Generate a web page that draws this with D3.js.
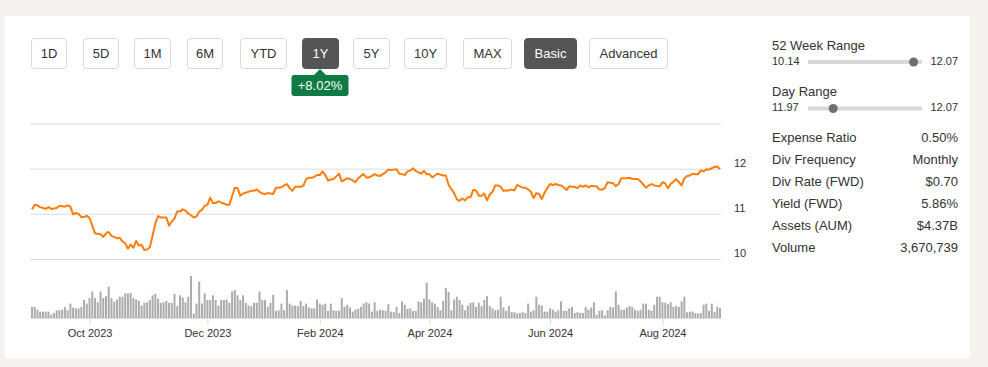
<!DOCTYPE html>
<html>
<head>
<meta charset="utf-8">
<script src="https://cdn.jsdelivr.net/npm/d3@7"></script>
<style>
  body { margin: 0; background: #f5f2f0; }
  svg { display: block; font-family: "Liberation Sans", Arial, sans-serif; }
</style>
</head>
<body>
<div id="chart"></div>
<script>
// closing prices, one per trading day (Aug 31 2023 - Aug 30 2024)
const PRICES = [
  11.11, 11.21, 11.20, 11.16, 11.14, 11.12, 11.16, 11.12, 11.13, 11.14,
  11.19, 11.18, 11.17, 11.20, 11.17, 11.00, 11.03, 11.01, 10.94, 10.94,
  10.97, 10.92, 10.75, 10.58, 10.57, 10.56, 10.50, 10.58, 10.61, 10.52,
  10.50, 10.47, 10.48, 10.40, 10.36, 10.24, 10.33, 10.26, 10.41, 10.31,
  10.32, 10.21, 10.22, 10.27, 10.53, 10.80, 10.96, 10.93, 10.93, 10.93,
  10.75, 10.84, 10.91, 11.07, 11.06, 11.11, 11.08, 11.02, 10.98, 10.93,
  10.95, 11.06, 11.10, 11.19, 11.21, 11.37, 11.25, 11.25, 11.29, 11.26,
  11.24, 11.21, 11.21, 11.40, 11.59, 11.58, 11.41, 11.46, 11.48, 11.50,
  11.52, 11.52, 11.55, 11.50, 11.46, 11.45, 11.47, 11.46, 11.45, 11.59,
  11.59, 11.60, 11.64, 11.67, 11.58, 11.52, 11.61, 11.61, 11.61, 11.63,
  11.78, 11.81, 11.81, 11.83, 11.87, 11.87, 11.95, 11.87, 11.75, 11.77,
  11.78, 11.84, 11.90, 11.73, 11.76, 11.80, 11.78, 11.75, 11.71, 11.80,
  11.85, 11.89, 11.81, 11.82, 11.85, 11.89, 11.86, 11.85, 11.89, 11.93,
  11.99, 11.98, 11.99, 12.00, 11.90, 11.89, 11.87, 11.95, 11.97, 12.02,
  11.96, 11.93, 11.90, 11.96, 11.89, 11.89, 11.82, 11.86, 11.90, 11.88,
  11.86, 11.86, 11.65, 11.56, 11.47, 11.33, 11.30, 11.35, 11.31, 11.38,
  11.38, 11.54, 11.53, 11.41, 11.41, 11.46, 11.31, 11.44, 11.50, 11.64,
  11.64, 11.61, 11.52, 11.53, 11.53, 11.55, 11.53, 11.65, 11.62, 11.59,
  11.59, 11.55, 11.50, 11.36, 11.47, 11.45, 11.34, 11.48, 11.58, 11.67,
  11.65, 11.67, 11.65, 11.64, 11.60, 11.54, 11.62, 11.61, 11.61, 11.58,
  11.64, 11.61, 11.64, 11.60, 11.63, 11.62, 11.62, 11.55, 11.55, 11.58,
  11.71, 11.70, 11.69, 11.62, 11.67, 11.80, 11.80, 11.80, 11.81, 11.78,
  11.78, 11.78, 11.73, 11.66, 11.59, 11.64, 11.67, 11.64, 11.63, 11.62,
  11.71, 11.69, 11.58, 11.67, 11.72, 11.78, 11.71, 11.64, 11.80, 11.85,
  11.86, 11.90, 11.89, 11.89, 11.97, 11.95, 12.00, 11.99, 12.02, 12.05,
  12.06, 12.00
];

// daily volume in millions of shares
const VOLUMES = [
  4.0, 4.0, 3.0, 2.3, 2.3, 2.3, 2.3, 1.2, 1.8, 2.8,
  2.8, 3.0, 4.0, 2.8, 5.2, 3.8, 3.5, 3.5, 4.0, 6.5,
  5.2, 7.2, 9.6, 7.2, 5.7, 9.6, 7.2, 7.9, 11.3, 7.2,
  5.9, 6.7, 7.7, 7.7, 8.9, 8.9, 9.1, 7.2, 6.7, 6.2,
  4.5, 5.5, 5.7, 6.5, 8.2, 8.7, 7.0, 5.5, 5.7, 6.2,
  5.5, 5.5, 8.7, 4.3, 8.2, 7.4, 5.7, 7.7, 15.2, 1.6,
  5.2, 13.2, 5.2, 8.9, 6.5, 6.5, 8.2, 6.5, 4.5, 6.5,
  6.5, 6.7, 5.5, 9.6, 10.1, 8.2, 6.5, 8.2, 5.5, 4.5,
  4.3, 5.5, 5.5, 9.6, 6.5, 6.5, 4.0, 5.5, 8.4, 2.6,
  2.8, 5.2, 2.8, 10.1, 5.2, 4.5, 4.5, 4.3, 6.2, 4.3,
  5.2, 3.8, 3.5, 3.5, 6.7, 5.2, 4.8, 5.2, 2.6, 5.2,
  2.8, 2.6, 2.6, 7.2, 4.0, 4.8, 3.8, 2.3, 3.0, 3.3,
  4.0, 5.2, 5.7, 5.2, 2.3, 5.7,
  2.6, 3.0, 2.8, 2.6, 5.0, 2.3, 2.1, 4.0, 1.8, 6.0,
  4.8, 3.3, 3.5, 2.6, 2.6, 6.0, 5.7, 7.0, 12.8, 6.7,
  5.7, 5.2, 4.0, 2.8, 6.2, 10.9, 9.4, 2.8, 6.7, 7.7,
  6.5, 4.8, 2.8, 4.5, 5.5, 5.7, 4.0, 5.5, 4.3, 6.5,
  7.9, 4.3, 3.5, 2.8, 3.0, 7.7, 3.8, 2.6, 4.3, 2.1,
  2.1, 1.6, 1.8, 2.1, 1.8, 5.2, 2.3, 2.8, 7.7, 4.8,
  4.5, 2.3, 2.3, 3.5, 3.0, 2.3, 2.8, 6.0, 2.6, 2.6,
  3.5, 4.0, 1.8, 2.1, 1.8, 1.8, 4.0, 3.0, 3.8, 5.7,
  1.1, 2.6, 2.8, 0.9, 2.8, 4.0, 3.8, 9.6, 4.8, 3.0,
  3.0, 3.8, 4.3, 4.0, 3.0, 2.6, 3.0, 5.2, 5.2, 3.0,
  2.6, 4.8, 7.7, 7.7, 5.7, 5.5, 5.0, 5.7, 4.0, 4.3,
  4.0, 6.0, 7.7, 2.1, 2.3, 2.3, 1.8, 1.6, 1.8, 4.8,
  5.2, 2.6, 5.2, 2.1, 4.0, 3.67
];

// market holidays inside the range
const HOLIDAYS = ["2023-09-04", "2023-11-23", "2023-12-25", "2024-01-01", "2024-01-15",
  "2024-02-19", "2024-03-29", "2024-05-27", "2024-06-19", "2024-07-04"];
const START_DATE = "2023-08-31";
const TICK_MONTHS = [9, 11, 1, 3, 5, 7]; // Oct, Dec, Feb, Apr, Jun, Aug

const Y_GRID = [10, 11, 12, 13];
const Y_LABELS = [10, 11, 12];

const BUTTONS = ["1D", "5D", "1M", "6M", "YTD", "1Y", "5Y", "10Y", "MAX", "Basic", "Advanced"];
const ACTIVE = ["1Y", "Basic"];
const CHANGE = "+8.02%";

const RANGE_52W = [10.14, 12.07];
const RANGE_DAY = [11.97, 12.07];
const LAST_PRICE = 11.99;

const STAT_LABELS = ["Expense Ratio", "Div Frequency", "Div Rate (FWD)", "Yield (FWD)", "Assets (AUM)", "Volume"];
const STAT_VALUES = ["0.50%", "Monthly", "$0.70", "5.86%", "$4.37B", "3,670,739"];

// layout
const FRAME_WIDTH = 988;
const FRAME_HEIGHT = 367;
const PLOT = {left: 32, right: 720, top: 124, bottom: 259.5};
const VOL = {top: 276, bottom: 318};
const BTN_X = [31, 83, 134, 187, 240, 302, 353, 404, 463, 524, 589];
const BTN_W = [35, 35, 36, 35, 46, 36, 36, 42, 48, 52, 78];
const LINE_COLOR = "#ff7d0d";
const TEXT_COLOR = "#333";

// build trading-day dates
const holidaySet = new Set(HOLIDAYS);
const fmtKey = d3.timeFormat("%Y-%m-%d");
const DATES = [];
let day = d3.timeParse("%Y-%m-%d")(START_DATE);
while (DATES.length < PRICES.length) {
  const wd = day.getDay();
  if (wd !== 0 && wd !== 6 && !holidaySet.has(fmtKey(day))) DATES.push(new Date(day));
  day = d3.timeDay.offset(day, 1);
}

const FRAME = d3.select("#chart")
  .append("svg")
  .attr("width", FRAME_WIDTH)
  .attr("height", FRAME_HEIGHT);

// white card
FRAME.append("rect")
  .attr("x", 5).attr("y", 16)
  .attr("width", 965).attr("height", 342)
  .attr("fill", "#fff");

// scales
const X_SCALE = d3.scalePoint()
  .domain(d3.range(PRICES.length))
  .range([PLOT.left, PLOT.right]);

const Y_SCALE = d3.scaleLinear()
  .domain([10, 13])
  .range([PLOT.bottom, PLOT.top]);

const V_SCALE = d3.scaleLinear()
  .domain([0, d3.max(VOLUMES)])
  .range([VOL.bottom, VOL.top]);

// gridlines
FRAME.append("g")
  .selectAll("line")
  .data(Y_GRID)
  .enter()
  .append("line")
  .attr("x1", 30).attr("x2", 721)
  .attr("y1", (d) => Y_SCALE(d))
  .attr("y2", (d) => Y_SCALE(d))
  .attr("stroke", "#dcdcdc")
  .attr("stroke-width", 1);

// right y labels
FRAME.append("g")
  .selectAll("text")
  .data(Y_LABELS)
  .enter()
  .append("text")
  .attr("x", 734)
  .attr("y", (d) => Y_SCALE(d) - 2.5)
  .attr("font-size", "11px")
  .attr("fill", TEXT_COLOR)
  .text((d) => d);

// price line
FRAME.append("path")
  .datum(PRICES)
  .attr("fill", "none")
  .attr("stroke", LINE_COLOR)
  .attr("stroke-width", 2)
  .attr("stroke-linejoin", "round")
  .attr("d", d3.line()
    .x((d, i) => X_SCALE(i))
    .y((d) => Y_SCALE(d)));

// volume bars
FRAME.append("g")
  .selectAll("rect")
  .data(VOLUMES)
  .enter()
  .append("rect")
  .attr("x", (d, i) => X_SCALE(i) - 1)
  .attr("y", (d) => V_SCALE(d))
  .attr("width", 2)
  .attr("height", (d) => VOL.bottom - V_SCALE(d))
  .attr("fill", "#acacac");

// x axis: first trading day of each labelled month
const tickIdx = DATES.map((d, i) => i)
  .filter((i) => i > 0 && DATES[i].getMonth() !== DATES[i - 1].getMonth()
    && TICK_MONTHS.includes(DATES[i].getMonth()));

const X_AXIS = FRAME.append("g")
  .attr("transform", "translate(0," + VOL.bottom + ")")
  .call(d3.axisBottom(X_SCALE)
    .tickValues(tickIdx)
    .tickFormat((i) => d3.timeFormat("%b %Y")(DATES[i]))
    .tickSize(7)
    .tickSizeOuter(0)
    .tickPadding(4));
X_AXIS.select(".domain").attr("stroke", "#dcdcdc").attr("d", "M30,0.5H721");
X_AXIS.selectAll(".tick line").attr("stroke", "#dcdcdc");
X_AXIS.selectAll("text")
  .attr("font-size", "11px")
  .attr("font-family", "\"Liberation Sans\", Arial, sans-serif")
  .attr("fill", TEXT_COLOR);

// range buttons
const BTN = FRAME.append("g")
  .selectAll("g")
  .data(BUTTONS)
  .enter()
  .append("g")
  .attr("transform", (d, i) => "translate(" + BTN_X[i] + ",38)");

BTN.append("rect")
  .attr("x", 0.5).attr("y", 0.5)
  .attr("width", (d, i) => BTN_W[i])
  .attr("height", 30)
  .attr("rx", 3)
  .attr("fill", (d) => ACTIVE.includes(d) ? "#555" : "#fff")
  .attr("stroke", (d) => ACTIVE.includes(d) ? "#555" : "#d9d9d9");

BTN.append("text")
  .attr("x", (d, i) => BTN_W[i] / 2 + 0.5)
  .attr("y", 20)
  .attr("text-anchor", "middle")
  .attr("font-size", "13px")
  .attr("fill", (d) => ACTIVE.includes(d) ? "#fff" : TEXT_COLOR)
  .text((d) => d);

// change badge under 1Y
const activeI = BUTTONS.indexOf("1Y");
const badgeCx = BTN_X[activeI] + BTN_W[activeI] / 2;
const BADGE = FRAME.append("g");
BADGE.append("path")
  .attr("d", "M" + (badgeCx - 6) + ",75L" + badgeCx + ",69L" + (badgeCx + 6) + ",75Z")
  .attr("fill", "#0e7a44");
BADGE.append("rect")
  .attr("x", badgeCx - 28.5).attr("y", 75)
  .attr("width", 57).attr("height", 21)
  .attr("rx", 3)
  .attr("fill", "#0e7a44");
BADGE.append("text")
  .attr("x", badgeCx).attr("y", 90)
  .attr("text-anchor", "middle")
  .attr("font-size", "13px")
  .attr("fill", "#fff")
  .text(CHANGE);

// side panel: range sliders
const PANEL = FRAME.append("g");
const KNOB_X = d3.scaleLinear().range([812, 918]);

function drawRange(title, range, y0) {
  PANEL.append("text")
    .attr("x", 772).attr("y", y0)
    .attr("font-size", "13px").attr("fill", TEXT_COLOR)
    .text(title);
  PANEL.append("text")
    .attr("x", 772).attr("y", y0 + 15)
    .attr("font-size", "11px").attr("fill", TEXT_COLOR)
    .text(range[0].toFixed(2));
  PANEL.append("text")
    .attr("x", 958).attr("y", y0 + 15)
    .attr("text-anchor", "end")
    .attr("font-size", "11px").attr("fill", TEXT_COLOR)
    .text(range[1].toFixed(2));
  PANEL.append("rect")
    .attr("x", 808).attr("y", y0 + 10.5)
    .attr("width", 114).attr("height", 4)
    .attr("fill", "#d9d9d9");
  KNOB_X.domain(range);
  PANEL.append("circle")
    .attr("cx", KNOB_X(LAST_PRICE)).attr("cy", y0 + 12.5)
    .attr("r", 4.5)
    .attr("fill", "#6e6e6e");
}
drawRange("52 Week Range", RANGE_52W, 49.5);
drawRange("Day Range", RANGE_DAY, 96);

// side panel: stats
const ROWS = PANEL.selectAll(".row")
  .data(STAT_LABELS)
  .enter()
  .append("g")
  .attr("class", "row")
  .attr("transform", (d, i) => "translate(0," + (142 + i * 21.9) + ")");
ROWS.append("text")
  .attr("x", 772)
  .attr("font-size", "13px").attr("fill", TEXT_COLOR)
  .text((d) => d);
ROWS.append("text")
  .attr("x", 958)
  .attr("text-anchor", "end")
  .attr("font-size", "13px").attr("fill", TEXT_COLOR)
  .text((d, i) => STAT_VALUES[i]);
</script>
</body>
</html>
